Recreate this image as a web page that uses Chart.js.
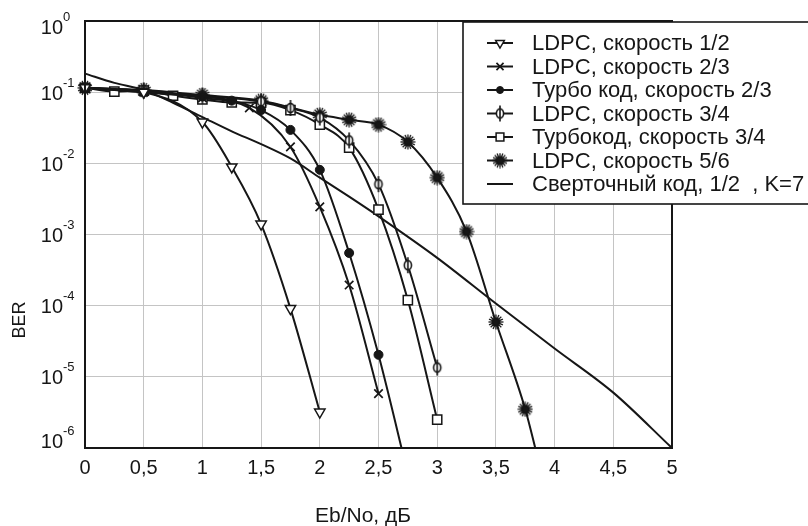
<!DOCTYPE html>
<html>
<head>
<meta charset="utf-8">
<script src="https://cdn.jsdelivr.net/npm/chart.js"></script>
<style>
  body { margin: 0; background: #fff; }
  canvas { display: block; }
</style>
</head>
<body>
<canvas id="berChart" width="808" height="526"></canvas>
<script>
// Axis ticks
const xTicks = [0, 0.5, 1, 1.5, 2, 2.5, 3, 3.5, 4, 4.5, 5];
const xTickLabels = ['0', '0,5', '1', '1,5', '2', '2,5', '3', '3,5', '4', '4,5', '5'];
const yTicks = [1, 1e-1, 1e-2, 1e-3, 1e-4, 1e-5, 1e-6];
const yTickExponents = ['0', '-1', '-2', '-3', '-4', '-5', '-6'];

// Series names (legend order)
const seriesNames = [
    'LDPC, скорость 1/2',
    'LDPC, скорость 2/3',
    'Турбо код, скорость 2/3',
    'LDPC, скорость 3/4',
    'Турбокод, скорость 3/4',
    'LDPC, скорость 5/6',
    'Сверточный код, 1/2  , K=7'
];

// Eb/No (dB) and BER
const ldpc12X = [0, 0.5, 1.0, 1.25, 1.5, 1.75, 2.0];
const ldpc12Y = [0.115, 0.1, 0.038, 0.0089, 0.0014, 9.1e-5, 3.2e-6];

const ldpc23X = [0, 0.5, 1.0, 1.4, 1.75, 2.0, 2.25, 2.5];
const ldpc23Y = [0.115, 0.1, 0.083, 0.06, 0.017, 0.00245, 1.95e-4, 5.8e-6];

const turbo23X = [0, 0.5, 1.0, 1.25, 1.5, 1.75, 2.0, 2.25, 2.5, 2.75];
const turbo23Y = [0.115, 0.1, 0.087, 0.076, 0.056, 0.0295, 0.0081, 5.5e-4, 2.04e-5, 4.3e-7];

const ldpc34X = [0, 0.5, 1.0, 1.5, 1.75, 2.0, 2.25, 2.5, 2.75, 3.0];
const ldpc34Y = [0.115, 0.105, 0.089, 0.074, 0.06, 0.044, 0.021, 0.0051, 3.7e-4, 1.35e-5];

const turbo34X = [0, 0.25, 0.5, 0.75, 1.0, 1.25, 1.5, 1.75, 2.0, 2.25, 2.5, 2.75, 3.0];
const turbo34Y = [0.115, 0.102, 0.105, 0.089, 0.079, 0.072, 0.071, 0.056, 0.035, 0.0166, 0.00224, 1.2e-4, 2.5e-6];

const ldpc56X = [0, 0.5, 1.0, 1.5, 2.0, 2.25, 2.5, 2.75, 3.0, 3.25, 3.5, 3.75, 3.85];
const ldpc56Y = [0.115, 0.107, 0.091, 0.076, 0.048, 0.041, 0.035, 0.02, 0.0063, 0.0011, 5.9e-5, 3.5e-6, 8e-7];

const convX = [0, 0.25, 0.5, 0.75, 1.0, 1.25, 1.5, 1.75, 2.0, 2.25, 2.5, 3.0, 3.5, 4.0, 4.5, 5.0];
const convY = [0.182, 0.135, 0.107, 0.071, 0.0447, 0.0282, 0.0186, 0.0117, 0.0063, 0.0034, 0.0018, 4.7e-4, 1.07e-4, 2.5e-5, 6.0e-6, 1e-6];

const ink = '#161616';
const fontFamily = '"Liberation Sans", Arial, sans-serif';

function toPoints(xs, ys) {
    return xs.map((x, i) => ({ x: x, y: ys[i] }));
}

// theta-like marker: open circle with a vertical bar
function makeThetaMarker() {
    const c = document.createElement('canvas');
    c.width = 12; c.height = 18;
    const g = c.getContext('2d');
    g.strokeStyle = ink;
    g.lineWidth = 1.6;
    g.fillStyle = '#fff';
    g.beginPath();
    g.ellipse(6, 9, 3.6, 4.6, 0, 0, Math.PI * 2);
    g.fill();
    g.stroke();
    g.beginPath();
    g.moveTo(6, 1);
    g.lineTo(6, 17);
    g.stroke();
    return c;
}

// dark spiky burst marker
function makeBurstMarker() {
    const c = document.createElement('canvas');
    c.width = 16; c.height = 16;
    const g = c.getContext('2d');
    g.fillStyle = ink;
    g.strokeStyle = ink;
    g.beginPath();
    g.arc(8, 8, 4.5, 0, Math.PI * 2);
    g.fill();
    g.lineWidth = 1.3;
    for (let k = 0; k < 16; k++) {
        const a = k * Math.PI / 8;
        g.beginPath();
        g.moveTo(8 + Math.cos(a) * 3, 8 + Math.sin(a) * 3);
        g.lineTo(8 + Math.cos(a) * 7.5, 8 + Math.sin(a) * 7.5);
        g.stroke();
    }
    return c;
}

const thetaMarker = makeThetaMarker();
const burstMarker = makeBurstMarker();

// hide markers of points that fall below the axis
function markerRadius(r) {
    return function(ctx) {
        return ctx.raw && ctx.raw.y < 1e-6 ? 0 : r;
    };
}

const markerStyles = [
    { pointStyle: 'triangle', radius: 6, rotation: 180, fill: '#fff', borderWidth: 1.5 },
    { pointStyle: 'crossRot', radius: 6, rotation: 0, fill: '#fff', borderWidth: 1.7 },
    { pointStyle: 'circle', radius: 4.5, rotation: 0, fill: ink, borderWidth: 1 },
    { pointStyle: thetaMarker, radius: 6, rotation: 0, fill: '#fff', borderWidth: 1.5 },
    { pointStyle: 'rect', radius: 6.5, rotation: 0, fill: '#fff', borderWidth: 1.5 },
    { pointStyle: burstMarker, radius: 8, rotation: 0, fill: ink, borderWidth: 1 },
    null
];

const seriesData = [
    toPoints(ldpc12X, ldpc12Y),
    toPoints(ldpc23X, ldpc23Y),
    toPoints(turbo23X, turbo23Y),
    toPoints(ldpc34X, ldpc34Y),
    toPoints(turbo34X, turbo34Y),
    toPoints(ldpc56X, ldpc56Y),
    toPoints(convX, convY)
];

const datasets = seriesData.map((pts, i) => {
    const m = markerStyles[i];
    return {
        label: seriesNames[i],
        data: pts,
        borderColor: ink,
        borderWidth: 2,
        cubicInterpolationMode: 'monotone',
        pointStyle: m ? m.pointStyle : 'circle',
        pointRadius: m ? markerRadius(m.radius) : 0,
        pointRotation: m ? m.rotation : 0,
        pointBackgroundColor: m ? m.fill : ink,
        pointBorderColor: ink,
        pointBorderWidth: m ? m.borderWidth : 0,
        clip: { left: 12, top: 12, right: 0, bottom: 0 }
    };
});

// Frame, tick labels, axis titles and the legend box
const decorPlugin = {
    id: 'decor',
    afterDraw(chart) {
        const ctx = chart.ctx;
        const area = chart.chartArea;
        const xs = chart.scales.x;
        const ys = chart.scales.y;
        ctx.save();

        // plot frame
        ctx.strokeStyle = ink;
        ctx.lineWidth = 2;
        ctx.strokeRect(area.left, area.top, area.right - area.left, area.bottom - area.top);

        ctx.fillStyle = ink;

        // x tick labels
        ctx.font = '20px ' + fontFamily;
        ctx.textAlign = 'center';
        ctx.textBaseline = 'middle';
        xTicks.forEach((v, i) => {
            ctx.fillText(xTickLabels[i], xs.getPixelForValue(v), area.bottom + 20);
        });

        // y tick labels: 10 with exponent
        yTicks.forEach((v, i) => {
            let py = ys.getPixelForValue(v) + 2;
            py = Math.min(Math.max(py, area.top + 7), area.bottom - 6);
            ctx.font = '20px ' + fontFamily;
            ctx.textAlign = 'right';
            ctx.fillText('10', 63, py);
            ctx.font = '13px ' + fontFamily;
            ctx.textAlign = 'left';
            ctx.fillText(yTickExponents[i], 63, py - 11);
        });

        // axis titles
        ctx.font = '21px ' + fontFamily;
        ctx.textAlign = 'center';
        ctx.fillText('Eb/No, дБ', 363, 516);
        ctx.save();
        ctx.translate(20, 320);
        ctx.rotate(-Math.PI / 2);
        ctx.font = '18px ' + fontFamily;
        ctx.fillText('BER', 0, 0);
        ctx.restore();

        // legend box
        const boxLeft = 463, boxTop = 22, boxBottom = 204;
        ctx.fillStyle = '#fff';
        ctx.fillRect(boxLeft, boxTop, 400, boxBottom - boxTop);
        ctx.strokeStyle = ink;
        ctx.lineWidth = 1.6;
        ctx.strokeRect(boxLeft, boxTop, 400, boxBottom - boxTop);

        ctx.font = '22px ' + fontFamily;
        ctx.textAlign = 'left';
        ctx.textBaseline = 'middle';
        seriesNames.forEach((name, i) => {
            const y = 43 + i * 23.5;
            ctx.strokeStyle = ink;
            ctx.lineWidth = 2;
            ctx.beginPath();
            ctx.moveTo(487, y);
            ctx.lineTo(513, y);
            ctx.stroke();
            const m = markerStyles[i];
            if (m && Chart.helpers && Chart.helpers.drawPoint) {
                ctx.fillStyle = m.fill;
                ctx.strokeStyle = ink;
                ctx.lineWidth = m.borderWidth;
                Chart.helpers.drawPoint(ctx, {
                    pointStyle: m.pointStyle,
                    rotation: m.rotation,
                    radius: m.radius - 1,
                    borderWidth: m.borderWidth
                }, 500, y);
            }
            ctx.fillStyle = ink;
            ctx.fillText(name, 532, y + 1);
        });

        ctx.restore();
    }
};

new Chart(document.getElementById('berChart').getContext('2d'), {
    type: 'line',
    data: { datasets: datasets },
    options: {
        responsive: false,
        animation: false,
        layout: { padding: { left: 85, right: 136, top: 21, bottom: 78 } },
        plugins: {
            legend: { display: false },
            tooltip: { enabled: false }
        },
        scales: {
            x: {
                type: 'linear',
                min: 0,
                max: 5,
                ticks: { display: false, stepSize: 0.5 },
                grid: { color: '#c4c4c4', lineWidth: 1, drawTicks: false },
                border: { display: false }
            },
            y: {
                type: 'logarithmic',
                min: 1e-6,
                max: 1,
                afterBuildTicks: function(scale) {
                    scale.ticks = yTicks.map(v => ({ value: v }));
                },
                ticks: { display: false },
                grid: { color: '#c4c4c4', lineWidth: 1, drawTicks: false },
                border: { display: false }
            }
        }
    },
    plugins: [decorPlugin]
});
</script>
</body>
</html>
